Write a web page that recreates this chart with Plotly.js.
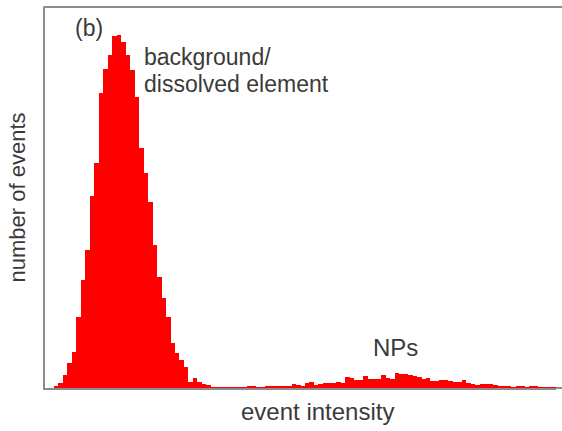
<!DOCTYPE html>
<html>
<head>
<meta charset="utf-8">
<script src="https://cdn.plot.ly/plotly-3.0.1.min.js"></script>
<style>html,body{margin:0;padding:0;background:#fff;overflow:hidden}#chart{width:562px;height:431px}</style>
</head>
<body>
<div id="chart"></div>
<script>
// bin index along the event-intensity axis
const binIndex = Array.from({length: 115}, (_, i) => i);
// number of events per bin (arbitrary units)
const eventCounts = [
  0, 0, 2, 5, 13, 25, 36, 71, 108, 138,
  192, 225, 295, 319, 333, 352, 353, 346, 333, 318,
  291, 240, 215, 186, 143, 111, 90, 71, 45, 35,
  28, 21, 6, 10, 6, 4, 3, 1, 1, 1,
  1, 1, 1, 1, 1, 2, 2, 1, 1, 2,
  2, 2, 2, 2, 2, 4, 3, 2, 5, 6,
  3, 4, 5, 5, 5, 6, 5, 11, 10, 8,
  8, 12, 9, 9, 9, 13, 10, 9, 15, 14,
  14, 13, 12, 11, 9, 10, 7, 7, 8, 8,
  7, 6, 6, 8, 5, 4, 3, 4, 4, 4,
  3, 2, 2, 2, 1, 2, 2, 1, 2, 2,
  1, 1, 1, 1, 1
];
const panelLabel = "(b)";
const peakLabels = ["background/", "dissolved element"];
const npLabel = "NPs";
const xTitle = "event intensity";
const yTitle = "number of events";

const textColor = "#3a3a3a";
const fontFam = "Liberation Sans, Arial, sans-serif";
const L = 45, R = 556, T = 7, B = 388;
const px = v => (v - L) / (R - L);
const py = v => (B - v) / (B - T);

const trace = {
  type: "bar",
  x: binIndex,
  y: eventCounts,
  width: 1,
  marker: {color: "#ff0000", line: {width: 0}},
  hoverinfo: "skip"
};

const layout = {
  width: 562, height: 431,
  margin: {l: L, r: 562 - R, t: T, b: 431 - B, pad: 0},
  paper_bgcolor: "#ffffff", plot_bgcolor: "#ffffff",
  showlegend: false,
  bargap: 0,
  font: {family: fontFam, color: textColor, size: 22},
  xaxis: {
    range: [-0.5, 113.5], showgrid: false, zeroline: false,
    showticklabels: false, ticks: "", showline: true, mirror: false,
    linecolor: "#8c8c8c", linewidth: 2, fixedrange: true
  },
  yaxis: {
    range: [0, 381], showgrid: false, zeroline: false,
    showticklabels: false, ticks: "", showline: true, mirror: false,
    linecolor: "#8c8c8c", linewidth: 2, fixedrange: true,
    title: {text: yTitle, standoff: 11, font: {size: 22, color: textColor, family: fontFam}}
  },
  shapes: [
    {type: "line", xref: "paper", yref: "paper", x0: -0.003, x1: 1.02, y0: 1, y1: 1,
     line: {color: "#8c8c8c", width: 2}},
    {type: "line", xref: "paper", yref: "paper", x0: 1, x1: 1.02, y0: 0, y1: 0,
     line: {color: "#8c8c8c", width: 2}}
  ],
  annotations: [
    {xref: "paper", yref: "paper", x: px(73), y: py(28), xanchor: "left", yanchor: "middle",
     text: panelLabel, showarrow: false, font: {size: 23, color: textColor}},
    {xref: "paper", yref: "paper", x: px(142), y: py(57), xanchor: "left", yanchor: "middle",
     text: peakLabels[0], showarrow: false, font: {size: 23, color: textColor}},
    {xref: "paper", yref: "paper", x: px(142), y: py(84), xanchor: "left", yanchor: "middle",
     text: peakLabels[1], showarrow: false, font: {size: 23, color: textColor}},
    {xref: "paper", yref: "paper", x: px(395.5), y: py(347), xanchor: "center", yanchor: "middle",
     text: npLabel, showarrow: false, font: {size: 24, color: textColor}},
    {xref: "paper", yref: "paper", x: px(317), y: py(412), xanchor: "center", yanchor: "middle",
     text: xTitle, showarrow: false, font: {size: 24, color: textColor}}
  ]
};

Plotly.newPlot("chart", [trace], layout, {staticPlot: true, displayModeBar: false});
</script>
</body>
</html>
